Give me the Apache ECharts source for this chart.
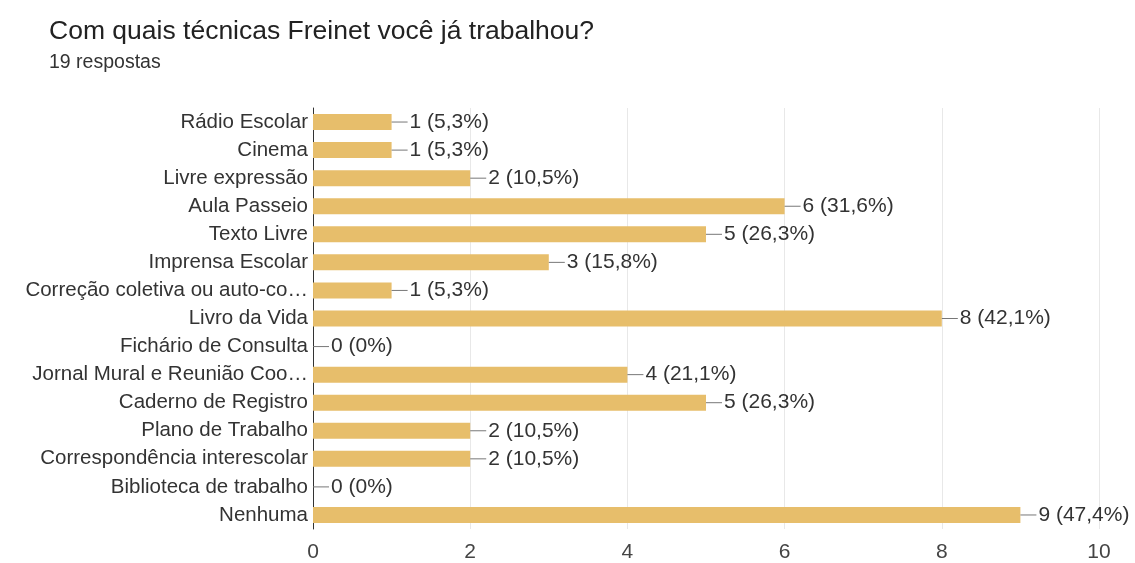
<!DOCTYPE html>
<html>
<head>
<meta charset="utf-8">
<script src="https://cdn.jsdelivr.net/npm/echarts@6/dist/echarts.min.js"></script>
<style>
  html, body { margin: 0; padding: 0; background: #fff; }
  #chart { width: 1135px; height: 563px; }
</style>
</head>
<body>
<div id="chart"></div>
<script>
const categories = [
  'Rádio Escolar', 'Cinema', 'Livre expressão', 'Aula Passeio', 'Texto Livre',
  'Imprensa Escolar', 'Correção coletiva ou auto-co…', 'Livro da Vida',
  'Fichário de Consulta', 'Jornal Mural e Reunião Coo…', 'Caderno de Registro',
  'Plano de Trabalho', 'Correspondência interescolar', 'Biblioteca de trabalho', 'Nenhuma'
]
const counts = [1, 1, 2, 6, 5, 3, 1, 8, 0, 4, 5, 2, 2, 0, 9]
const percents = ['5,3%', '5,3%', '10,5%', '31,6%', '26,3%', '15,8%', '5,3%', '42,1%',
  '0%', '21,1%', '26,3%', '10,5%', '10,5%', '0%', '47,4%']
const xTicks = [0, 2, 4, 6, 8, 10]

const font = '"Liberation Sans", Arial, sans-serif'
const myChart = echarts.init(document.getElementById('chart'))
myChart.setOption({
  animation: false,
  title: {
    text: 'Com quais técnicas Freinet você já trabalhou?',
    subtext: '19 respostas',
    left: 44,
    top: 13,
    itemGap: 8,
    textStyle: { fontFamily: font, fontSize: 26.5, fontWeight: 'normal', color: '#222' },
    subtextStyle: { fontFamily: font, fontSize: 19.5, color: '#333' }
  },
  grid: {
    left: 313,
    right: 36,
    top: 108,
    bottom: 33,
    containLabel: false
  },
  xAxis: {
    type: 'value',
    min: xTicks[0],
    max: xTicks[xTicks.length - 1],
    interval: 2,
    axisLine: { show: false },
    axisTick: { show: false },
    splitLine: { lineStyle: { color: '#e8e8e8' } },
    axisLabel: { fontFamily: font, fontSize: 21, color: '#444', margin: 13 }
  },
  yAxis: {
    type: 'category',
    inverse: true,
    data: categories,
    axisLine: { lineStyle: { color: '#333', width: 1 } },
    axisTick: { show: false },
    axisLabel: { fontFamily: font, fontSize: 20.5, color: '#333', margin: 5 }
  },
  series: [{
    type: 'bar',
    data: counts,
    barWidth: 16,
    itemStyle: { color: '#e7be6b' },
    label: {
      show: true,
      position: 'right',
      distance: 0,
      formatter: (p) => '{l| }{g| }' + counts[p.dataIndex] + ' (' + percents[p.dataIndex] + ')',
      fontFamily: font,
      fontSize: 21,
      color: '#333',
      rich: {
        l: { width: 16, height: 1, backgroundColor: '#777', padding: 0, verticalAlign: 'middle' },
        g: { width: 2 }
      }
    }
  }]
})
</script>
</body>
</html>
